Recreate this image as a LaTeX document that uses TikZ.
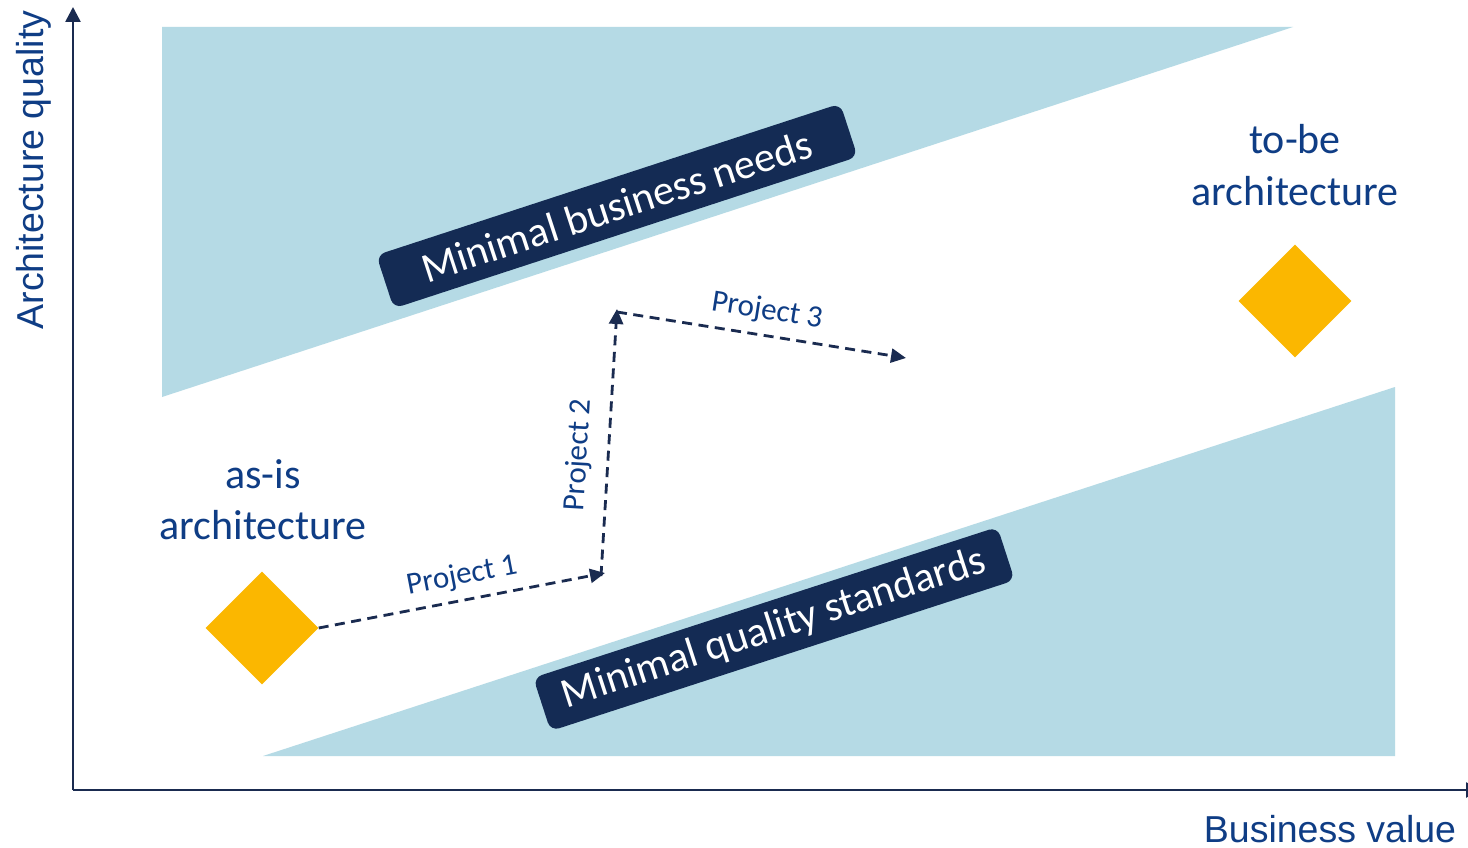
\documentclass[tikz,border=0pt]{standalone}
\usepackage{fontspec}
\setmainfont{Carlito}
\newfontfamily\arialfont{Liberation Sans}
\usetikzlibrary{shapes.geometric,arrows.meta}
\definecolor{lightband}{HTML}{B5DAE5}
\definecolor{navybox}{HTML}{142B54}
\definecolor{diamondyellow}{HTML}{FBB700}
\definecolor{labelblue}{HTML}{0F3D85}
\definecolor{axisnavy}{HTML}{1A2B50}
\tikzset{
  band/.style={fill=lightband, draw=none},
  banner/.style={rectangle, rounded corners=9pt, fill=navybox, text=white,
    minimum width=488pt, minimum height=56pt, inner sep=0pt,
    font=\fontsize{42}{50}\selectfont},
  gem/.style={diamond, fill=diamondyellow, draw=none, inner sep=0pt,
    minimum width=113pt, minimum height=113pt},
  statelabel/.style={text=labelblue, inner sep=0pt, anchor=base,
    font=\fontsize{42}{50}\selectfont},
  axislabel/.style={text=labelblue, inner sep=0pt, anchor=base,
    font=\arialfont\fontsize{37.5}{44}\selectfont},
  axisline/.style={draw=axisnavy, line width=2.6pt,
    -{Triangle[length=15pt,width=15pt]}},
  projarrow/.style={draw=axisnavy, line width=2.8pt, dash pattern=on 10pt off 6.5pt,
    -{Triangle[length=15pt,width=14pt]}},
  projlabel/.style={text=labelblue, inner sep=0pt,
    font=\fontsize{31}{37}\selectfont},
}
\begin{document}
\begin{tikzpicture}[x=1pt,y=-1pt]
  \useasboundingbox[fill=white] (0,0) rectangle (1468,848);
  \clip (0,0) rectangle (1468,848);
  % bands
  \fill[band] (162,27) -- (1293,27) -- (162,397) -- cycle;
  \fill[band] (263,756) -- (1395,387) -- (1395,756) -- cycle;
  % axes
  \coordinate (origin) at (73,790);
  \coordinate (ytop) at (73,7);
  \coordinate (xend) at (1481,790);
  \draw[axisline] (origin) -- (ytop);
  \draw[axisline] (origin) -- (xend);
  \node[axislabel, rotate=90] (ylab) at (43,170) {Architecture quality};
  \node[axislabel] (xlab) at (1330,842) {Business value};
  % banners
  \node[banner, rotate=18.1] (needs) at (617,206) {Minimal business needs};
  \node[banner, rotate=18.0] (standards) at (774,629) {Minimal quality standards};
  % diamonds
  \node[gem] (asis) at (262,628) {};
  \node[gem] (tobe) at (1295,301) {};
  \node[statelabel] (asis1) at (263,488) {as-is};
  \node[statelabel] (asis2) at (263,539) {architecture};
  \node[statelabel] (tobe1) at (1295,154) {to-be};
  \node[statelabel] (tobe2) at (1295,205) {architecture};
  % projects
  \coordinate (p1end) at (605,573);
  \coordinate (p2start) at (601,576);
  \coordinate (p2end) at (617,309);
  \coordinate (p3start) at (617,312);
  \coordinate (p3end) at (906,358);
  \draw[projarrow] (asis.east) -- (p1end);
  \draw[projarrow] (p2start) -- (p2end);
  \draw[projarrow] (p3start) -- (p3end);
  \node[projlabel, rotate=10.9] (proj1) at (462,576) {Project 1};
  \node[projlabel, rotate=86.6] (proj2) at (579,455) {Project 2};
  \node[projlabel, rotate=-8.9] (proj3) at (767,311) {Project 3};
\end{tikzpicture}
\end{document}
